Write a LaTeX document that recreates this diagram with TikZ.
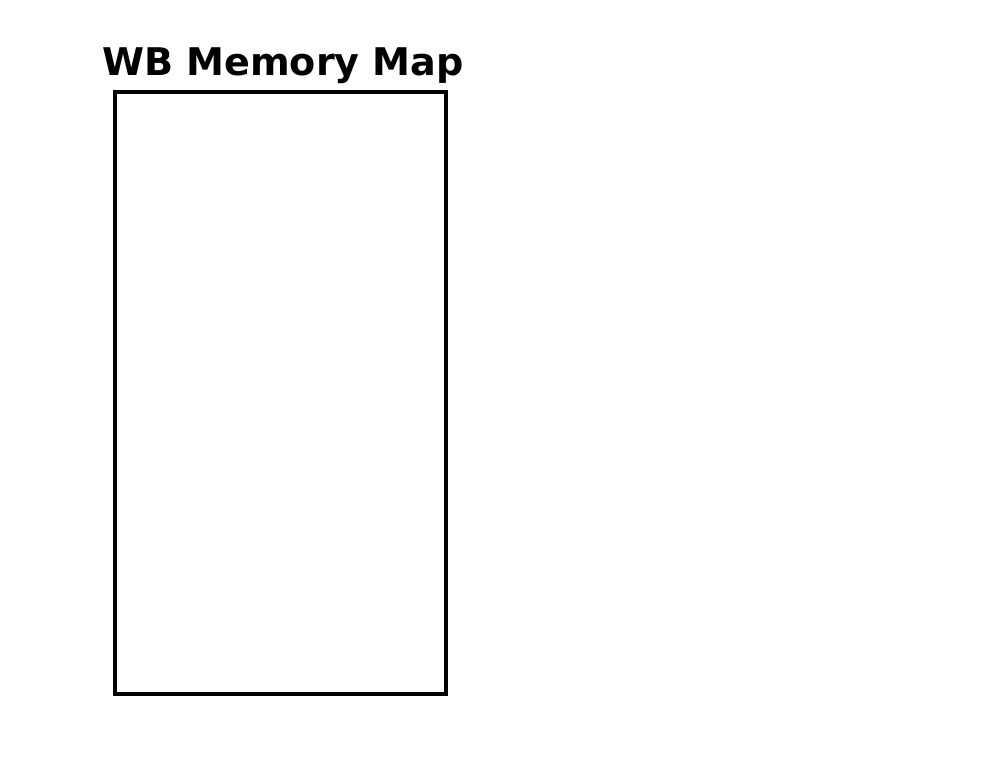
\documentclass[tikz,border=0pt]{standalone}
\usepackage{fontspec}
\setmainfont{DejaVu Sans}

\begin{document}
\begin{tikzpicture}[x=0.025cm,y=0.025cm]
	\useasboundingbox (0,0) rectangle (990,765);

	% --- memory map box ---
	\node[draw, line width=0.11cm, minimum width=8.275cm, minimum height=15.05cm,
		inner sep=0pt] (wbmap) at (280.5,372) {};

	% title
	\node[anchor=base, inner sep=0pt, font=\bfseries\fontsize{27.1}{32}\selectfont]
		(wbtitle) at (283,689) {WB Memory Map};

\end{tikzpicture}
\end{document}
